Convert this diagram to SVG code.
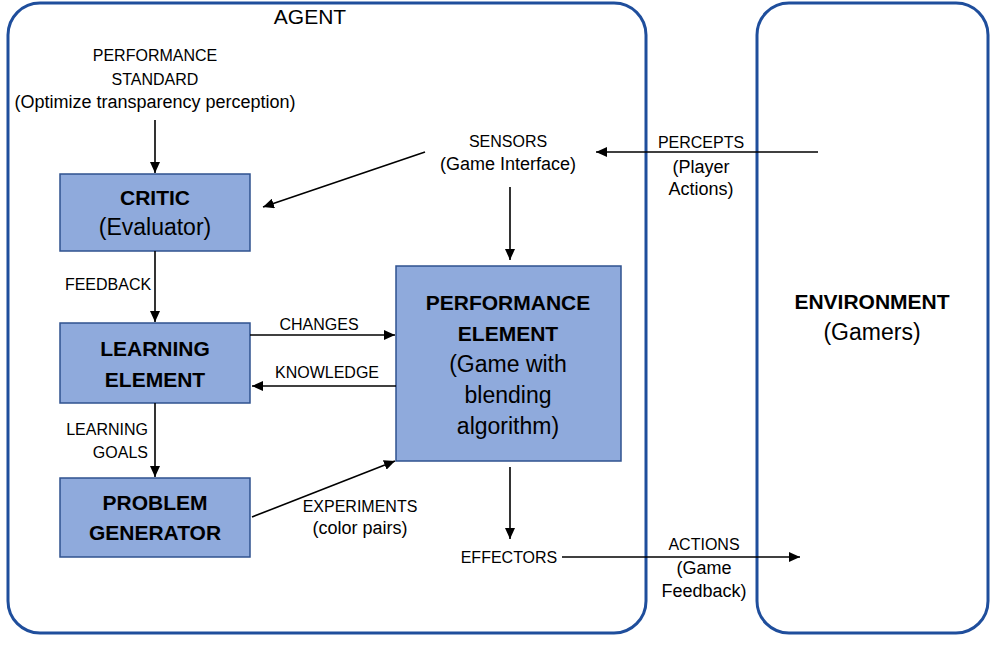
<svg xmlns="http://www.w3.org/2000/svg" width="1000" height="649" viewBox="0 0 1000 649">
<defs>
<marker id="ah" markerUnits="userSpaceOnUse" markerWidth="12" markerHeight="10" refX="11" refY="5" orient="auto">
<path d="M0,0 L11,5 L0,10 Z" fill="#000"/>
</marker>
<style>
.frame{fill:#fff;stroke:#1f4e9c;stroke-width:3}
.box{fill:#8faadc;stroke:#2f528f;stroke-width:1.5}
.t{font-family:"Liberation Sans",Arial,sans-serif;font-size:16px;fill:#000;text-anchor:middle}
.l{font-family:"Liberation Sans",Arial,sans-serif;font-size:18px;fill:#000;text-anchor:middle}
.b{font-family:"Liberation Sans",Arial,sans-serif;font-size:21px;font-weight:bold;fill:#000;text-anchor:middle}
.r{font-family:"Liberation Sans",Arial,sans-serif;font-size:23px;fill:#000;text-anchor:middle}
.c{fill:none;stroke:#000;stroke-width:1.6;marker-end:url(#ah)}
</style>
</defs>
<rect width="1000" height="649" fill="#fff"/>
<g id="agent">
<rect class="frame" x="8" y="3" width="638" height="630" rx="32" ry="32"/>
<text class="b" x="310" y="24" style="font-weight:normal">AGENT</text>
</g>
<g id="environment">
<rect class="frame" x="757" y="3" width="231" height="630" rx="32" ry="32"/>
<text class="b" x="872" y="309">ENVIRONMENT</text>
<text class="r" x="872" y="340">(Gamers)</text>
</g>
<g id="performance-standard">
<text class="t" x="155" y="61">PERFORMANCE</text>
<text class="t" x="155" y="85">STANDARD</text>
<text class="l" x="155" y="108">(Optimize transparency perception)</text>
</g>
<g id="sensors">
<text class="t" x="508" y="147">SENSORS</text>
<text class="l" x="508" y="170">(Game Interface)</text>
</g>
<g id="critic">
<rect class="box" x="60" y="174" width="190" height="77"/>
<text class="b" x="155" y="205">CRITIC</text>
<text class="r" x="155" y="235">(Evaluator)</text>
</g>
<g id="learning-element">
<rect class="box" x="60" y="323" width="190" height="80"/>
<text class="b" x="155" y="356">LEARNING</text>
<text class="b" x="155" y="387">ELEMENT</text>
</g>
<g id="problem-generator">
<rect class="box" x="60" y="478" width="190" height="79"/>
<text class="b" x="155" y="510">PROBLEM</text>
<text class="b" x="155" y="540">GENERATOR</text>
</g>
<g id="performance-element">
<rect class="box" x="396" y="266" width="225" height="195"/>
<text class="b" x="508" y="310">PERFORMANCE</text>
<text class="b" x="508" y="341">ELEMENT</text>
<text class="r" x="508" y="372">(Game with</text>
<text class="r" x="508" y="403">blending</text>
<text class="r" x="508" y="434">algorithm)</text>
</g>
<g id="effectors">
<text class="t" x="509" y="563">EFFECTORS</text>
</g>
<g id="connectors">
<line class="c" x1="155" y1="120" x2="155" y2="173"/>
<line class="c" x1="425" y1="152" x2="263" y2="207"/>
<line class="c" x1="818" y1="152" x2="596" y2="152"/>
<line class="c" x1="510" y1="187" x2="510" y2="260"/>
<line class="c" x1="155" y1="251" x2="155" y2="322"/>
<line class="c" x1="250" y1="335" x2="395" y2="335"/>
<line class="c" x1="396" y1="386" x2="252" y2="386"/>
<line class="c" x1="155" y1="403" x2="155" y2="477"/>
<line class="c" x1="252" y1="517" x2="395" y2="461"/>
<line class="c" x1="510" y1="467" x2="510" y2="539"/>
<line class="c" x1="562" y1="557" x2="800" y2="557"/>
</g>
<g id="labels">
<text class="t" x="701" y="148">PERCEPTS</text>
<text class="l" x="701" y="173">(Player</text>
<text class="l" x="701" y="195">Actions)</text>
<text class="t" x="108" y="290">FEEDBACK</text>
<text class="t" x="319" y="330">CHANGES</text>
<text class="t" x="327" y="378">KNOWLEDGE</text>
<text class="t" x="148" y="435" style="text-anchor:end">LEARNING</text>
<text class="t" x="148" y="458" style="text-anchor:end">GOALS</text>
<text class="t" x="360" y="512">EXPERIMENTS</text>
<text class="l" x="360" y="534">(color pairs)</text>
<text class="t" x="704" y="550">ACTIONS</text>
<text class="l" x="704" y="574">(Game</text>
<text class="l" x="704" y="597">Feedback)</text>
</g>
</svg>
